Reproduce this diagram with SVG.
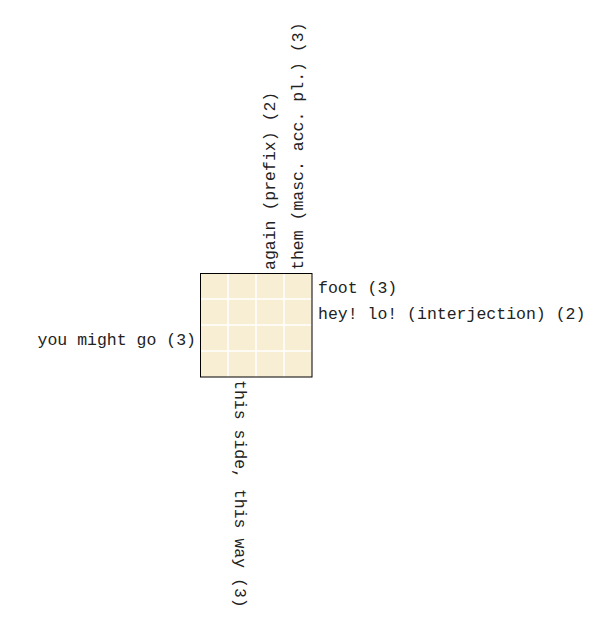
<svg xmlns="http://www.w3.org/2000/svg" width="612" height="632" viewBox="0 0 612 632">
<style>
.clue{font-family:"Liberation Mono","DejaVu Sans Mono",monospace;font-size:16.5px;fill:#222}
.cell{fill:#f8eed3}
.gl{stroke:#ffffff;stroke-width:1.5;fill:none}
.border{fill:none;stroke:#000;stroke-width:1}
</style>
<rect width="612" height="632" fill="#ffffff"/>
<g id="grid">
<rect class="cell" x="200.5" y="273.5" width="111.5" height="103.5"/>
<g class="gl">
<line x1="228" y1="274" x2="228" y2="377"/>
<line x1="256" y1="274" x2="256" y2="377"/>
<line x1="284" y1="274" x2="284" y2="377"/>
<line x1="201" y1="299" x2="311.5" y2="299"/>
<line x1="201" y1="325" x2="311.5" y2="325"/>
<line x1="201" y1="351" x2="311.5" y2="351"/>
</g>
<rect class="border" x="200.5" y="273.5" width="111.5" height="103.5"/>
</g>
<g id="clue-foot"><text class="clue" x="318" y="293">foot (3)</text></g>
<g id="clue-hey"><text class="clue" x="318" y="319">hey! lo! (interjection) (2)</text></g>
<g id="clue-you"><text class="clue" x="196" y="345" text-anchor="end">you might go (3)</text></g>
<g id="clue-again"><text class="clue" transform="translate(275,270) rotate(-90)">again (prefix) (2)</text></g>
<g id="clue-them"><text class="clue" transform="translate(303,270) rotate(-90)">them (masc. acc. pl.) (3)</text></g>
<g id="clue-this"><text class="clue" transform="translate(235,380) rotate(90)">this side, this way (3)</text></g>
<g id="connectors"></g>
</svg>
